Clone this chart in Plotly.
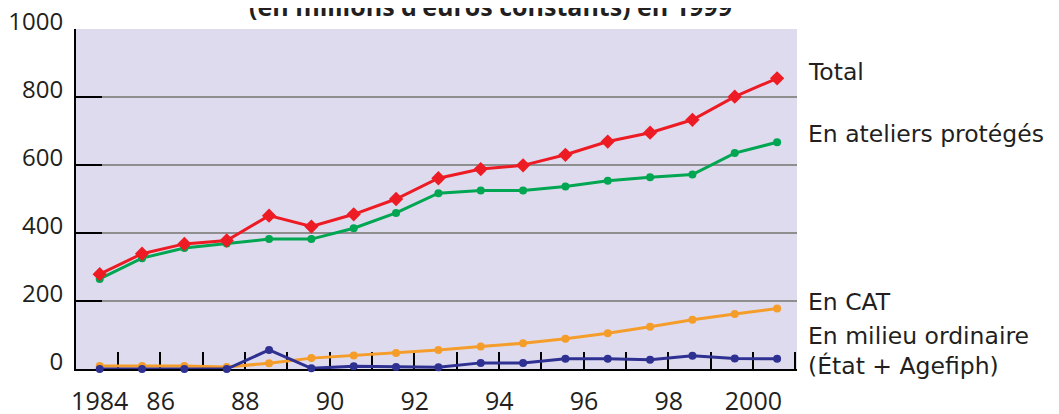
import plotly.graph_objects as go

# ---- data ----
years = list(range(1984, 2001))
total = [279, 339, 368, 378, 451, 419, 455, 500, 561, 588, 599, 630, 669, 695, 733, 801, 855]
ateliers = [265, 326, 356, 369, 382, 382, 414, 459, 517, 525, 525, 537, 554, 564, 572, 635, 667]
cat = [9, 9, 9, 6, 17, 32, 40, 47, 56, 66, 76, 89, 105, 124, 145, 162, 178]
milieu = [0, 0, 0, 0, 56, 2, 8, 6, 5, 18, 18, 30, 30, 27, 39, 31, 30]

label_years = [1984, 1986, 1988, 1990, 1992, 1994, 1996, 1998, 2000]
x_tick_text = ["1984", "86", "88", "90", "92", "94", "96", "98", "2000"]
y_ticks = [0, 200, 400, 600, 800, 1000]
title_text = "(en millions d’euros constants) en 1999"
series_labels = ["Total", "En ateliers protégés", "En CAT", "En milieu ordinaire", "(État + Agefiph)"]

# ---- layout geometry (page pixels; the html body adds an 8px offset) ----
OFF = 8
W, H = 1059 - OFF, 414 - OFF
PL, PR, PT, PB = 76, 797, 29, 369          # plot area in page pixels
L, R, T, B = PL - OFF, PR - OFF, PT - OFF, PB - OFF
FONT = "Open Sans"
LABEL_FONT = "DejaVu Sans"
TXT = "#231f20"

def px_x(px):
    return (px - PL) / (PR - PL)

def px_y(py):
    return (PB - py) / (PB - PT)

# label positions on the x axis (original puts labels at the boundary before each year)
label_pos = [y if y == 1984 else y - 0.56 for y in label_years]
boundary_ticks = [y + 0.43 for y in years]

fig = go.Figure()
fig.add_trace(go.Scatter(x=years, y=cat, mode="lines+markers", name="En CAT",
                         line=dict(color="#f59d2a", width=3),
                         marker=dict(symbol="circle", size=8, color="#f59d2a"),
                         cliponaxis=False))
fig.add_trace(go.Scatter(x=years, y=milieu, mode="lines+markers", name="En milieu ordinaire",
                         line=dict(color="#2e3192", width=3),
                         marker=dict(symbol="circle", size=8, color="#2e3192"),
                         cliponaxis=False))
fig.add_trace(go.Scatter(x=years, y=ateliers, mode="lines+markers", name="En ateliers protégés",
                         line=dict(color="#00a651", width=3),
                         marker=dict(symbol="circle", size=8, color="#00a651"),
                         cliponaxis=False))
fig.add_trace(go.Scatter(x=years, y=total, mode="lines+markers", name="Total",
                         line=dict(color="#ed1c24", width=3),
                         marker=dict(symbol="diamond", size=11, color="#ed1c24"),
                         cliponaxis=False))

fig.update_layout(
    width=W, height=H,
    margin=dict(l=L, r=W - R, t=T, b=H - B, pad=0, autoexpand=False),
    paper_bgcolor="white",
    plot_bgcolor="#dfdbee",
    showlegend=False,
    font=dict(family=FONT, color=TXT, size=25),
)

fig.update_xaxes(
    range=[1983.44, 2000.47],
    automargin=False,
    tickmode="array", tickvals=label_pos, ticktext=x_tick_text,
    ticks="", showgrid=False, zeroline=False,
    showline=True, linecolor="black", linewidth=2,
    tickfont=dict(family=FONT, size=25, color=TXT),
    ticklabelstandoff=9,
    ticklabeloverflow="allow",
    layer="below traces",
    minor=dict(tickmode="array", tickvals=boundary_ticks, ticks="inside",
               ticklen=17, tickwidth=2, tickcolor="black", showgrid=False),
)

fig.update_yaxes(
    range=[0, 1000],
    automargin=False,
    tickmode="array", tickvals=y_ticks, ticktext=[str(v) for v in y_ticks],
    ticks="inside", ticklen=26, tickwidth=2, tickcolor="black",
    showgrid=True, gridcolor="#8e8e8e", gridwidth=2,
    zeroline=False,
    showline=True, linecolor="black", linewidth=2,
    tickfont=dict(family=FONT, size=24, color=TXT),
    ticklabelstandoff=6,
    ticklabelshift=-7,
    ticklabeloverflow="allow",
    layer="below traces",
)

# title (top line of original is cropped off the image)
fig.add_annotation(text="<b>" + title_text + "</b>", xref="paper", yref="paper",
                   x=px_x(490), y=px_y(24.5), xanchor="center", yanchor="bottom",
                   showarrow=False, font=dict(family=FONT, size=25, color=TXT))

# series labels on the right
label_centers = [72, 134, 302, 336, 366]
for txt, cy in zip(series_labels, label_centers):
    fig.add_annotation(text=txt, xref="paper", yref="paper",
                       x=px_x(806), y=px_y(cy), xanchor="left", yanchor="middle",
                       showarrow=False, font=dict(family=LABEL_FONT, size=23.5, color=TXT))

fig.write_html("out.html")
